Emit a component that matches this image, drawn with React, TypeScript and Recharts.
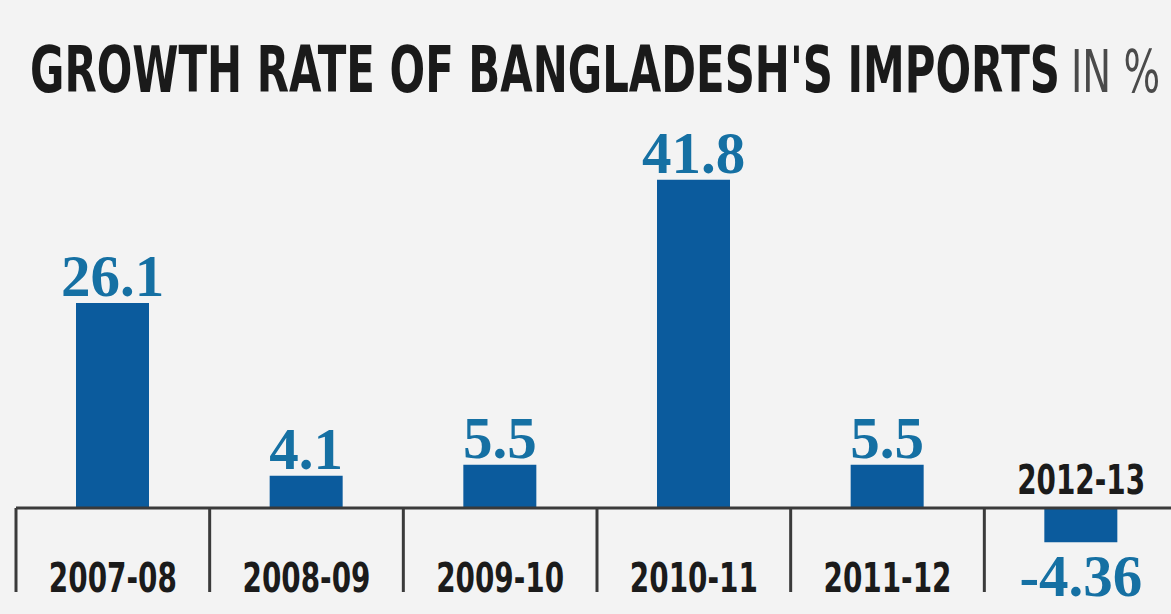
import React from 'react';
import { BarChart, Bar, XAxis, YAxis, ReferenceLine, LabelList } from 'recharts';

const categories = ['2007-08', '2008-09', '2009-10', '2010-11', '2011-12', '2012-13'];
const growth = [26.1, 4.1, 5.5, 41.8, 5.5, -4.36];
const valueLabels = ['26.1', '4.1', '5.5', '41.8', '5.5', '-4.36'];
const titleMain = "GROWTH RATE OF BANGLADESH'S IMPORTS";
const titleUnit = 'IN %';

const data = categories.map((c, i) => ({ year: c, growth: growth[i], label: valueLabels[i] }));

const BAR_COLOR = '#0b5b9d';
const VALUE_COLOR = '#1570a3';
const CONDENSED = '"Liberation Sans Narrow", "DejaVu Sans Condensed", "Open Sans", sans-serif';

const CategoryTick = (props: any) => {
  const { x, payload, index } = props;
  const neg = growth[index] < 0;
  return (
    <text
      x={x}
      y={neg ? 494 : 592}
      textAnchor="middle"
      textLength={128}
      lengthAdjust="spacingAndGlyphs"
      fontFamily={CONDENSED}
      fontWeight={700}
      fontSize={40}
      fill="#1b1b1b"
    >
      {payload.value}
    </text>
  );
};

const ValueLabel = (props: any) => {
  const { x, y, width, height, index } = props;
  const top = Math.min(y, y + height);
  const bottom = Math.max(y, y + height);
  const neg = growth[index] < 0;
  return (
    <text
      x={x + width / 2}
      y={neg ? bottom + 54 : top - 7}
      textAnchor="middle"
      fontFamily='"Liberation Serif", "DejaVu Serif", serif'
      fontWeight={700}
      fontSize={59}
      fill={VALUE_COLOR}
    >
      {valueLabels[index]}
    </text>
  );
};

export default function App() {
  return (
    <div
      style={{
        position: 'absolute',
        left: 0,
        top: 0,
        width: 1171,
        height: 614,
        overflow: 'hidden',
        background: '#f3f3f3',
      }}
    >
      <svg width={1171} height={120} style={{ position: 'absolute', left: 0, top: 0 }}>
        <text
          x={30}
          y={92}
          textLength={1030}
          lengthAdjust="spacingAndGlyphs"
          fontFamily={CONDENSED}
          fontWeight={700}
          fontSize={64}
          fill="#1a1a1a"
        >
          {titleMain}
        </text>
        <text
          x={1071}
          y={92}
          textLength={89}
          lengthAdjust="spacingAndGlyphs"
          fontFamily={CONDENSED}
          fontWeight={400}
          fontSize={58}
          fill="#4a4a4a"
        >
          {titleUnit}
        </text>
      </svg>
      <div style={{ position: 'absolute', left: 0, top: 0 }}>
        <BarChart
          width={1180}
          height={614}
          data={data}
          margin={{ top: 115.5, right: 2, bottom: 0, left: 16 }}
          barCategoryGap={0}
        >
          <XAxis
            dataKey="year"
            axisLine={false}
            tickLine={false}
            tick={<CategoryTick />}
            interval={0}
            height={19.65}
          />
          <YAxis hide domain={[-11, 50]} allowDataOverflow type="number" />
          {categories.map((c) => (
            <ReferenceLine
              key={c}
              segment={[
                { x: c, y: 0 },
                { x: c, y: -10.7 },
              ]}
              position="start"
              stroke="#3a3a3a"
              strokeWidth={3}
              ifOverflow="visible"
            />
          ))}
          <Bar dataKey="growth" fill={BAR_COLOR} barSize={73} isAnimationActive={false}>
            <LabelList dataKey="label" content={<ValueLabel />} />
          </Bar>
          <ReferenceLine y={0} stroke="#3a3a3a" strokeWidth={3} ifOverflow="visible" />
        </BarChart>
      </div>
    </div>
  );
}
